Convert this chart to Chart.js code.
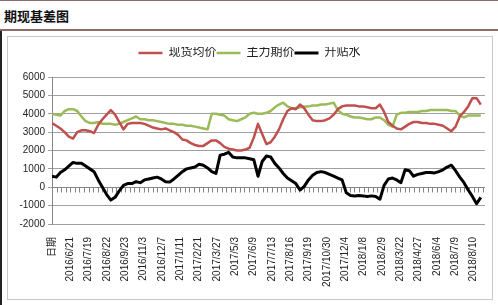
<!DOCTYPE html>
<html lang="zh-CN">
<head>
  <meta charset="UTF-8">
  <title>期现基差图</title>
  <style>
    body {
      margin: 0;
      width: 498px;
      height: 305px;
      overflow: hidden;
      background: #fff;
      position: relative;
      font-family: "Liberation Sans", "Noto Sans CJK SC", sans-serif;
    }
    .titlebar {
      position: absolute;
      left: 0; top: 0;
      width: 498px; height: 28px;
      border-top: 1px solid #8a6d66;
      border-bottom: 2px solid #8a6d66;
    }
    .titlebar span {
      position: absolute;
      left: 4px; top: 5px;
      font-size: 13px;
      font-weight: bold;
      color: #111;
      font-family: "Noto Sans CJK SC", sans-serif;
    }
    .leftline {
      position: absolute;
      left: 0; top: 31px;
      width: 2px; height: 274px;
      background: #222;
    }
    .box {
      position: absolute;
      left: 7px; top: 36px;
      width: 484px; height: 262px;
      border: 1px solid #c8c8c8;
    }
  </style>
</head>
<body>
  <div class="titlebar"><span>期现基差图</span></div>
  <div class="leftline"></div>
  <div class="box">
    <canvas id="basisChart" width="484" height="262"></canvas>
  </div>

  <script src="https://cdn.jsdelivr.net/npm/chart.js"></script>
  <script>
    // tick labels along the date axis (first one is the header cell)
    const tickLabels = ['日期', '2016/6/21', '2016/7/19', '2016/8/22', '2016/9/23', '2016/11/3',
      '2016/12/7', '2017/1/11', '2017/2/21', '2017/3/27', '2017/5/3', '2017/6/9', '2017/7/13',
      '2017/8/16', '2017/9/19', '2017/10/30', '2017/12/4', '2018/1/8', '2018/2/9', '2018/3/22',
      '2018/4/27', '2018/6/4', '2018/7/9', '2018/8/10'];

    const seriesNames = ['现货均价', '主力期价', '升贴水'];

    // 现货均价
    const spotAvg = [3500, 3350, 3200, 3000, 2750, 2650, 3000, 3100, 3100, 3050,
      2950, 3400, 3700, 3950, 4200, 3950, 3550, 3150, 3450, 3500,
      3500, 3500, 3450, 3350, 3250, 3200, 3150, 3200, 3100, 3000,
      2850, 2600, 2550, 2400, 2300, 2250, 2250, 2400, 2550, 2550,
      2400, 2200, 2100, 2050, 2000, 2000, 2050, 2150, 2700, 3450,
      2900, 2350, 2450, 2750, 3150, 3700, 4150, 4300, 4250, 4500,
      4300, 3950, 3650, 3600, 3600, 3650, 3750, 3950, 4250, 4400,
      4450, 4450, 4450, 4400, 4400, 4350, 4300, 4300, 4500, 4100,
      3550, 3350, 3200, 3150, 3300, 3450, 3550, 3550, 3500, 3500,
      3450, 3450, 3400, 3350, 3200, 3050, 3300, 3850, 4100, 4400,
      4850, 4850, 4500];

    // 主力期价
    const mainFutures = [4000, 3950, 3900, 4150, 4250, 4250, 4150, 3850, 3600, 3500,
      3500, 3550, 3450, 3450, 3450, 3400, 3450, 3550, 3650, 3750,
      3850, 3700, 3700, 3650, 3650, 3600, 3550, 3500, 3450, 3450,
      3400, 3400, 3350, 3350, 3300, 3250, 3200, 3150, 4000, 4000,
      3950, 3900, 3700, 3650, 3600, 3700, 3800, 4000, 4050, 4000,
      4000, 4050, 4150, 4350, 4500, 4600, 4400, 4300, 4300, 4350,
      4400, 4400, 4450, 4450, 4500, 4500, 4550, 4600, 4200, 4000,
      3950, 3850, 3800, 3800, 3750, 3700, 3700, 3800, 3800, 3650,
      3400, 3300, 3950, 4050, 4050, 4100, 4100, 4100, 4150, 4150,
      4200, 4200, 4200, 4200, 4200, 4150, 4150, 3900, 3800, 3900,
      3900, 3900, 3900];

    // 升贴水
    const basis = [600, 550, 800, 950, 1150, 1350, 1300, 1300, 1150, 1000,
      850, 400, 0, -400, -700, -550, -200, 100, 200, 200,
      300, 250, 400, 450, 500, 550, 450, 300, 280, 450,
      650, 850, 1000, 1050, 1100, 1250, 1200, 1050, 850, 750,
      1750, 1800, 1900, 1650, 1600, 1600, 1600, 1550, 1500, 600,
      1400, 1700, 1650, 1300, 1050, 750, 500, 350, 200, -150,
      50, 400, 650, 800, 850, 800, 700, 600, 500, 400,
      -300, -450, -470, -450, -470, -500, -470, -500, -650, 100,
      450, 500, 400, 250, 950, 900, 600, 700, 750, 800,
      800, 780, 850, 950, 1100, 1200, 900, 550, 250, -150,
      -500, -900, -550];

    const POINTS_PER_LABEL = 4.36;
    const FONT = '"Liberation Sans", "Noto Sans CJK SC", sans-serif';

    function toPoints(arr) {
      return arr.map((v, i) => ({ x: i, y: v }));
    }

    // push the plot area a little below the legend
    const legendGap = {
      id: 'legendGap',
      beforeLayout(chart) {
        const lg = chart.legend;
        if (lg && !lg._gapPatched) {
          const fit = lg.fit;
          lg.fit = function () { fit.call(this); this.height += 8; };
          lg._gapPatched = true;
        }
      }
    };

    // horizontal axis crosses at 0, with small tick marks
    const zeroAxis = {
      id: 'zeroAxis',
      beforeDatasetsDraw(chart) {
        const { ctx, chartArea, scales } = chart;
        const y0 = Math.round(scales.y.getPixelForValue(0)) + 0.5;
        ctx.save();
        ctx.strokeStyle = '#868686';
        ctx.lineWidth = 1;
        ctx.beginPath();
        ctx.moveTo(chartArea.left, y0);
        ctx.lineTo(chartArea.right, y0);
        const step = POINTS_PER_LABEL / 4;
        for (let v = 0; v <= scales.x.max; v += step) {
          const px = Math.round(scales.x.getPixelForValue(v)) + 0.5;
          ctx.moveTo(px, y0);
          ctx.lineTo(px, y0 + 5);
        }
        ctx.stroke();
        ctx.restore();
      }
    };

    const ctx = document.getElementById('basisChart').getContext('2d');
    new Chart(ctx, {
      type: 'line',
      data: {
        datasets: [
          { label: seriesNames[0], data: toPoints(spotAvg), borderColor: '#c0504d', backgroundColor: '#c0504d', borderWidth: 2.5 },
          { label: seriesNames[1], data: toPoints(mainFutures), borderColor: '#9bbb59', backgroundColor: '#9bbb59', borderWidth: 2.5 },
          { label: seriesNames[2], data: toPoints(basis), borderColor: '#000000', backgroundColor: '#000000', borderWidth: 3 }
        ]
      },
      options: {
        responsive: false,
        animation: false,
        layout: { padding: { top: 10, right: 7, left: 6, bottom: 0 } },
        elements: {
          point: { radius: 0, pointStyle: 'line' },
          line: { tension: 0, borderJoinStyle: 'round' }
        },
        plugins: {
          tooltip: { enabled: false },
          legend: {
            position: 'top',
            labels: {
              usePointStyle: true,
              pointStyle: 'line',
              pointStyleWidth: 24,
              boxHeight: 12,
              padding: 0,
              color: '#222',
              font: { family: FONT, size: 12 }
            }
          }
        },
        scales: {
          x: {
            type: 'linear',
            min: 0,
            max: 103,
            grid: { display: false },
            border: { display: false },
            afterBuildTicks(scale) {
              scale.ticks = tickLabels.map((_, k) => ({ value: k * POINTS_PER_LABEL }));
            },
            afterFit(scale) { scale.height = 75; },
            ticks: {
              autoSkip: false,
              maxRotation: 90,
              minRotation: 90,
              padding: 5,
              color: '#222',
              font: { family: FONT, size: 10 },
              callback: (value, index) => tickLabels[index]
            }
          },
          y: {
            min: -2000,
            max: 6000,
            afterFit(scale) { scale.width = 38; },
            grid: { color: '#a0a0a0', tickLength: 4 },
            border: { color: '#868686' },
            ticks: {
              stepSize: 1000,
              padding: 3,
              color: '#222',
              font: { family: FONT, size: 10 },
              callback: (value) => String(value)
            }
          }
        }
      },
      plugins: [legendGap, zeroAxis]
    });
  </script>
</body>
</html>
